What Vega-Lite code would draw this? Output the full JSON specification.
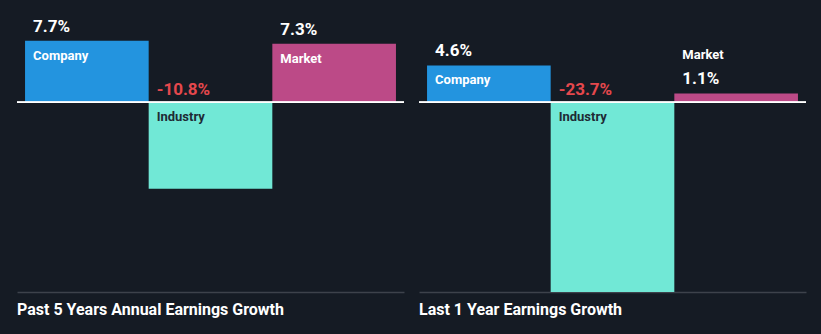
{
  "$schema": "https://vega.github.io/schema/vega-lite/v6.json",
  "background": "#151b24",
  "padding": {"left": 16, "top": 0, "right": 15, "bottom": 16},
  "data": {
    "values": [
      {"panel": "Past 5 Years Annual Earnings Growth", "cat": "Company", "value": 7.7, "label": "7.7%"},
      {"panel": "Past 5 Years Annual Earnings Growth", "cat": "Industry", "value": -10.8, "label": "-10.8%"},
      {"panel": "Past 5 Years Annual Earnings Growth", "cat": "Market", "value": 7.3, "label": "7.3%"},
      {"panel": "Last 1 Year Earnings Growth", "cat": "Company", "value": 4.6, "label": "4.6%"},
      {"panel": "Last 1 Year Earnings Growth", "cat": "Industry", "value": -23.7, "label": "-23.7%"},
      {"panel": "Last 1 Year Earnings Growth", "cat": "Market", "value": 1.1, "label": "1.1%"}
    ]
  },
  "facet": {
    "column": {
      "field": "panel",
      "type": "nominal",
      "sort": ["Past 5 Years Annual Earnings Growth", "Last 1 Year Earnings Growth"],
      "header": {
        "title": null,
        "labelOrient": "bottom",
        "labelAnchor": "start",
        "labelAlign": "left",
        "labelBaseline": "top",
        "labelPadding": 10,
        "labelFont": "Roboto",
        "labelFontSize": 16,
        "labelFontWeight": "bold",
        "labelColor": "#ffffff"
      }
    }
  },
  "spacing": 13,
  "spec": {
    "width": 387,
    "height": 292,
    "encoding": {
      "x": {
        "field": "cat",
        "type": "nominal",
        "sort": ["Company", "Industry", "Market"],
        "scale": {"paddingInner": 0, "paddingOuter": 0.065},
        "axis": {"labels": false, "ticks": false, "title": null, "domainColor": "#3d424b", "domainWidth": 1.5, "grid": false}
      }
    },
    "layer": [
      {
        "mark": {"type": "bar"},
        "encoding": {
          "y": {"field": "value", "type": "quantitative", "scale": {"domain": [-23.7, 12.78], "nice": false, "zero": false}, "axis": null},
          "color": {
            "field": "cat",
            "type": "nominal",
            "scale": {"domain": ["Company", "Industry", "Market"], "range": ["#2394df", "#71e8d6", "#bc4a87"]},
            "legend": null
          }
        }
      },
      {
        "mark": {"type": "rule", "color": "#ffffff", "strokeWidth": 1.5},
        "encoding": {"y": {"datum": 0, "type": "quantitative"}, "x": {"value": 0}, "x2": {"value": 387}}
      },
      {
        "transform": [{"filter": "datum.value > 0"}],
        "mark": {"type": "text", "align": "left", "baseline": "alphabetic", "dx": 8, "dy": -9, "font": "Roboto", "fontSize": 17, "fontWeight": "bold"},
        "encoding": {
          "x": {"field": "cat", "type": "nominal", "sort": ["Company", "Industry", "Market"], "bandPosition": 0},
          "y": {"field": "value", "type": "quantitative"},
          "text": {"field": "label"},
          "color": {"value": "#ffffff"}
        }
      },
      {
        "transform": [{"filter": "datum.value < 0"}],
        "mark": {"type": "text", "align": "left", "baseline": "alphabetic", "dx": 8, "dy": -7, "font": "Roboto", "fontSize": 17, "fontWeight": "bold"},
        "encoding": {
          "x": {"field": "cat", "type": "nominal", "sort": ["Company", "Industry", "Market"], "bandPosition": 0},
          "y": {"datum": 0, "type": "quantitative"},
          "text": {"field": "label"},
          "color": {"value": "#e5484d"}
        }
      },
      {
        "transform": [{"filter": "datum.value >= 3"}],
        "mark": {"type": "text", "align": "left", "baseline": "alphabetic", "dx": 8, "dy": 19, "font": "Roboto", "fontSize": 13, "fontWeight": "bold"},
        "encoding": {
          "x": {"field": "cat", "type": "nominal", "sort": ["Company", "Industry", "Market"], "bandPosition": 0},
          "y": {"field": "value", "type": "quantitative"},
          "text": {"field": "cat"},
          "color": {"value": "#ffffff"}
        }
      },
      {
        "transform": [{"filter": "datum.value < 0"}],
        "mark": {"type": "text", "align": "left", "baseline": "alphabetic", "dx": 8, "dy": 19, "font": "Roboto", "fontSize": 13, "fontWeight": "bold"},
        "encoding": {
          "x": {"field": "cat", "type": "nominal", "sort": ["Company", "Industry", "Market"], "bandPosition": 0},
          "y": {"datum": 0, "type": "quantitative"},
          "text": {"field": "cat"},
          "color": {"value": "#1e2b35"}
        }
      },
      {
        "transform": [{"filter": "datum.value > 0 && datum.value < 3"}],
        "mark": {"type": "text", "align": "left", "baseline": "alphabetic", "dx": 8, "dy": -34, "font": "Roboto", "fontSize": 13, "fontWeight": "bold"},
        "encoding": {
          "x": {"field": "cat", "type": "nominal", "sort": ["Company", "Industry", "Market"], "bandPosition": 0},
          "y": {"field": "value", "type": "quantitative"},
          "text": {"field": "cat"},
          "color": {"value": "#ffffff"}
        }
      }
    ]
  },
  "config": {
    "view": {"stroke": null},
    "font": "Roboto"
  }
}
